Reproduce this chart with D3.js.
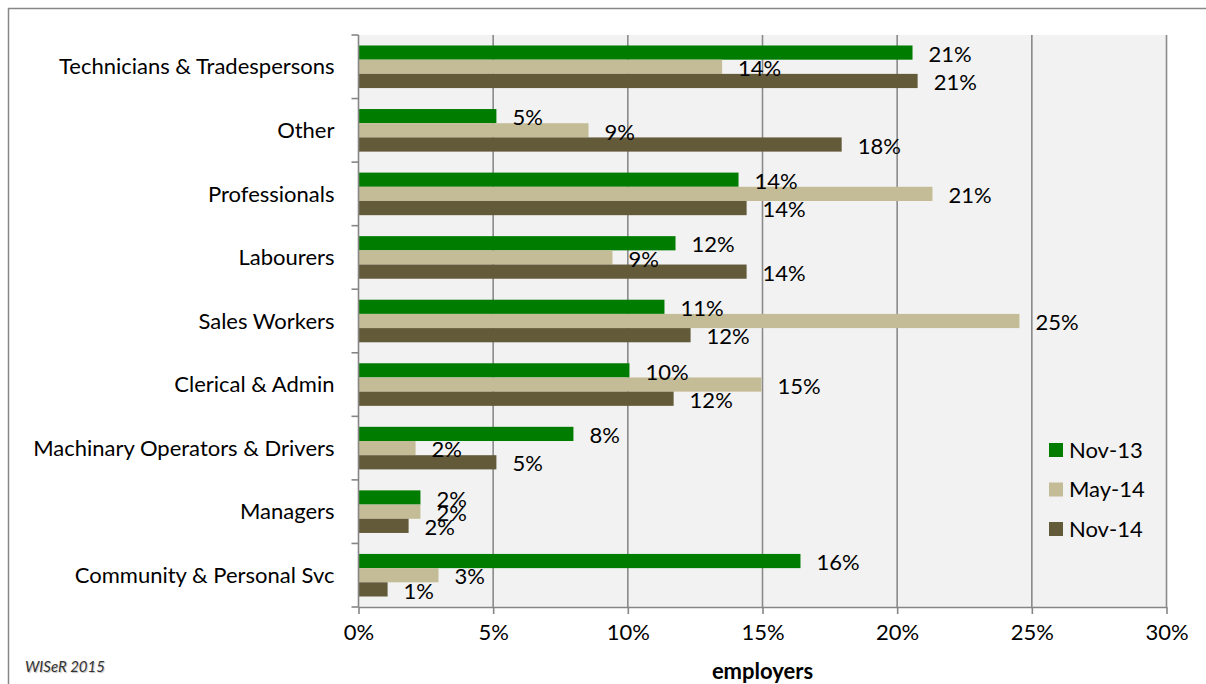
<!DOCTYPE html>
<html>
<head>
<meta charset="utf-8">
<script src="https://cdn.jsdelivr.net/npm/d3@7"></script>
<style>
  html, body { margin: 0; padding: 0; background: #fff; }
  svg { display: block; font-family: Lato, "Open Sans", sans-serif; }
</style>
</head>
<body>
<svg id="chart" width="1206" height="684"></svg>
<script>
// Occupation categories, top to bottom
const categories = [
  "Technicians & Tradespersons",
  "Other",
  "Professionals",
  "Labourers",
  "Sales Workers",
  "Clerical & Admin",
  "Machinary Operators & Drivers",
  "Managers",
  "Community & Personal Svc"
];

// Survey periods
const seriesNames = ["Nov-13", "May-14", "Nov-14"];

// Share of employers (fraction) per category, one array per period
const nov13 = [0.2057, 0.0512, 0.1411, 0.1177, 0.1136, 0.1006, 0.0798, 0.0230, 0.1641];
const may14 = [0.1350, 0.0854, 0.2131, 0.0943, 0.2454, 0.1496, 0.0212, 0.0230, 0.0297];
const nov14 = [0.2076, 0.1794, 0.1441, 0.1441, 0.1233, 0.1170, 0.0512, 0.0186, 0.0108];

const xTicks = [0, 0.05, 0.10, 0.15, 0.20, 0.25, 0.30];

const colors = ["#007c00", "#c4bc96", "#635a3a"];
const seriesValues = [nov13, may14, nov14];

const svg = d3.select("#chart");
const plot = { left: 358.5, right: 1166.5, top: 35, bottom: 607 };

const x = d3.scaleLinear().domain([0, 0.30]).range([plot.left, plot.right]);
const y0 = d3.scaleBand().domain(categories).range([plot.top, plot.bottom])
  .paddingInner(0.33).paddingOuter(0.165);
const y1 = d3.scaleBand().domain(seriesNames).range([0, y0.bandwidth()]);

// Outer chart frame (top and left edges)
svg.append("path")
  .attr("d", "M8.5,1206 L8.5,8.5 L1206,8.5")
  .attr("fill", "none").attr("stroke", "#878787").attr("stroke-width", 1.5);

// Plot area background
svg.append("rect")
  .attr("x", plot.left).attr("y", plot.top)
  .attr("width", plot.right - plot.left).attr("height", plot.bottom - plot.top)
  .attr("fill", "#f2f2f2");

// Vertical gridlines
svg.append("g").selectAll("line")
  .data(xTicks.filter(d => d > 0))
  .join("line")
  .attr("x1", d => x(d)).attr("x2", d => x(d))
  .attr("y1", plot.top).attr("y2", plot.bottom)
  .attr("stroke", "#8a8a8a").attr("stroke-width", 1.6);

// Bars
const groups = svg.append("g").selectAll("g")
  .data(categories)
  .join("g")
  .attr("transform", d => `translate(0,${y0(d)})`);

const barData = (c, i) => seriesNames.map((s, k) => ({ s, k, v: seriesValues[k][i] }));

groups.selectAll("rect")
  .data((c, i) => barData(c, i))
  .join("rect")
  .attr("x", x(0))
  .attr("y", d => y1(d.s))
  .attr("width", d => x(d.v) - x(0))
  .attr("height", y1.bandwidth())
  .attr("fill", d => colors[d.k]);

// Value labels
const fmt = d3.format(".0%");
groups.selectAll("text")
  .data((c, i) => barData(c, i))
  .join("text")
  .attr("x", d => x(d.v) + 16)
  .attr("y", d => y1(d.s) + y1.bandwidth() / 2 + 1.5)
  .attr("dy", "0.35em")
  .attr("font-size", 22)
  .attr("fill", "#000")
  .text(d => fmt(d.v));

// Y axis
const yAxis = svg.append("g")
  .attr("transform", `translate(${plot.left},0)`);
yAxis.append("line")
  .attr("x1", 0).attr("x2", 0).attr("y1", plot.top).attr("y2", plot.bottom)
  .attr("stroke", "#868686").attr("stroke-width", 1.6);
const yTickPos = categories.map(c => y0(c) - y0.step() * y0.paddingInner() / 2);
yTickPos.push(plot.bottom);
yAxis.selectAll("line.tick")
  .data(yTickPos)
  .join("line").attr("class", "tick")
  .attr("x1", -7).attr("x2", 0)
  .attr("y1", d => d).attr("y2", d => d)
  .attr("stroke", "#868686").attr("stroke-width", 1.6);
yAxis.selectAll("text")
  .data(categories)
  .join("text")
  .attr("x", -24)
  .attr("y", d => y0(d) + y0.bandwidth() / 2)
  .attr("dy", "0.35em")
  .attr("text-anchor", "end")
  .attr("font-size", 22)
  .attr("fill", "#000")
  .text(d => d);

// X axis
const xAxis = d3.axisBottom(x).tickValues(xTicks).tickFormat(d3.format(".0%"))
  .tickSize(7).tickSizeOuter(0).tickPadding(10);
const xg = svg.append("g")
  .attr("transform", `translate(0,${plot.bottom})`)
  .call(xAxis);
xg.select(".domain").attr("stroke", "#868686").attr("stroke-width", 1.6);
xg.selectAll(".tick line").attr("stroke", "#868686").attr("stroke-width", 1.6);
xg.selectAll(".tick text")
  .attr("font-size", 22).attr("fill", "#000").attr("font-family", "Lato, sans-serif");

// Axis title
svg.append("text")
  .attr("x", (plot.left + plot.right) / 2)
  .attr("y", 671)
  .attr("dy", "0.35em")
  .attr("text-anchor", "middle")
  .attr("font-size", 22)
  .attr("font-weight", "bold")
  .attr("fill", "#000")
  .text("employers");

// Legend
const legend = svg.append("g").attr("transform", "translate(1049,450)");
const li = legend.selectAll("g")
  .data(seriesNames)
  .join("g")
  .attr("transform", (d, i) => `translate(0,${i * 39.5})`);
li.append("rect")
  .attr("x", 0).attr("y", -7).attr("width", 14).attr("height", 14)
  .attr("fill", (d, i) => colors[i]);
li.append("text")
  .attr("x", 20).attr("y", 0).attr("dy", "0.35em")
  .attr("font-size", 22).attr("fill", "#000")
  .text(d => d);

// Source note
svg.append("text")
  .attr("x", 25).attr("y", 667).attr("dy", "0.35em")
  .attr("font-size", 15).attr("font-style", "italic")
  .attr("fill", "#333")
  .style("text-shadow", "1px 1px 1px rgba(0,0,0,0.25)")
  .text("WISeR 2015");
</script>
</body>
</html>
